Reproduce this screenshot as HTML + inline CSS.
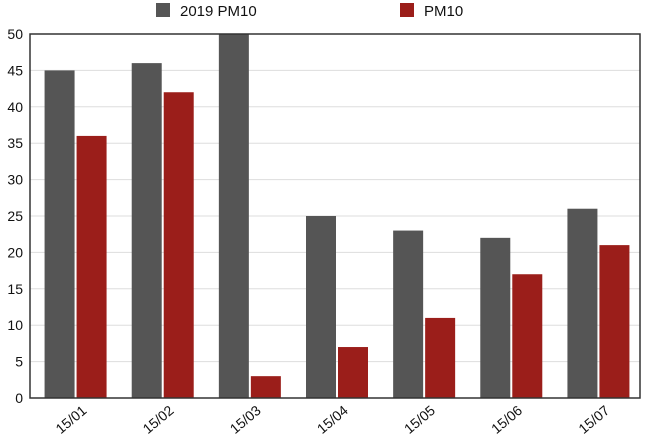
<!DOCTYPE html>
<html><head><meta charset="utf-8"><style>
body{margin:0;background:#fff;width:649px;height:440px;overflow:hidden}
text{font-family:"Liberation Sans",sans-serif;fill:#111}
</style></head><body>
<svg id="c" width="649" height="440">
<g id="grid"></g>
<g id="bars"></g>
<g id="axes"></g>
<g>
<rect x="156" y="3" width="14" height="14" fill="#555"/>
<text x="180" y="16" font-size="15">2019 PM10</text>
<rect x="400" y="3" width="14" height="14" fill="#9b1e1a"/>
<text x="424" y="16" font-size="15">PM10</text>
</g>
</svg>
<script>
const categories=["15/01","15/02","15/03","15/04","15/05","15/06","15/07"];
const series2019=[45,46,50,25,23,22,26];
const seriesPM10=[36,42,3,7,11,17,21];
const yTicks=[0,5,10,15,20,25,30,35,40,45,50];
const L=30,R=640,T=34,B=398,yMax=50;
const ns="http://www.w3.org/2000/svg";
const y=v=>B-(v/yMax)*(B-T);
const gw=(R-L)/categories.length;
const x=i=>L+2+gw*(i+0.5);
function mk(tag,attrs,parent){const e=document.createElementNS(ns,tag);for(const k in attrs)e.setAttribute(k,attrs[k]);parent.appendChild(e);return e;}
const grid=document.getElementById('grid'),bars=document.getElementById('bars'),axes=document.getElementById('axes');
yTicks.forEach(t=>{
 const l=mk('line',{x1:L,x2:R,y1:y(t),y2:y(t),stroke:'#ddd','stroke-width':1},grid);
 
 
 const tx=mk('text',{x:L-7,y:y(t)+5,'font-size':14,'text-anchor':'end'},axes);
 tx.textContent=t;
 
 
});
categories.forEach((c,i)=>{
 const b1=mk('rect',{x:x(i)-31,y:y(series2019[i]),width:30,height:B-y(series2019[i]),fill:'#555'},bars);
 
 
 const b2=mk('rect',{x:x(i)+1,y:y(seriesPM10[i]),width:30,height:B-y(seriesPM10[i]),fill:'#9b1e1a'},bars);
 
 
 const tx=mk('text',{x:x(i)+12,y:B+14,'font-size':14,'text-anchor':'end',transform:`rotate(-40 ${x(i)+12} ${B+14})`},axes);
 tx.textContent=c;
 
 
});
const fr=mk('rect',{x:L,y:T,width:R-L,height:B-T,fill:'none',stroke:'#333','stroke-width':1.5},axes);


</script>
</body></html>
